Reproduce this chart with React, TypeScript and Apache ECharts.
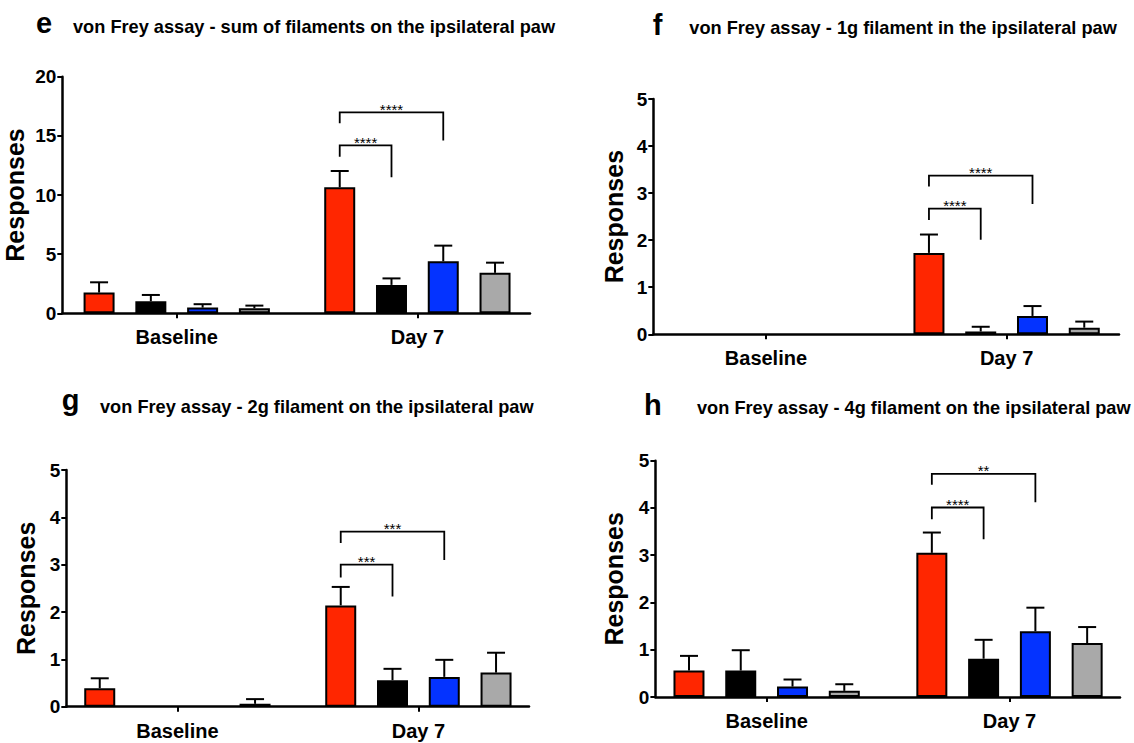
import React, { useEffect, useRef } from "react";
import * as echarts from "echarts";

// ---------- data ----------
const categories = ["Baseline", "Day 7"];
const groupNames = ["Group 1", "Group 2", "Group 3", "Group 4"];
const groupColors = ["#FF2600", "#000000", "#0433FF", "#A9A9A9"];
const panelLetters = ["e", "f", "g", "h"];
const panelTitles = [
  "von Frey assay - sum of filaments on the ipsilateral paw",
  "von Frey assay - 1g filament in the ipsilateral paw",
  "von Frey assay - 2g filament on the ipsilateral paw",
  "von Frey assay - 4g filament on the ipsilateral paw",
];
const yAxisName = "Responses";
const yMaxes = [20, 5, 5, 5];
const yIntervals = [5, 1, 1, 1];

// means per group: [Baseline, Day 7]
const eMeans = [[1.75, 10.65], [1.02, 2.4], [0.48, 4.4], [0.42, 3.42]];
const eErrTops = [[2.62, 12.03], [1.55, 2.95], [0.77, 5.72], [0.65, 4.28]];
const fMeans = [[0, 1.73], [0, 0.06], [0, 0.39], [0, 0.14]];
const fErrTops = [[null, 2.12], [null, 0.16], [null, 0.6], [null, 0.27]];
const gMeans = [[0.39, 2.14], [0, 0.56], [0, 0.63], [0.06, 0.72]];
const gErrTops = [[0.6, 2.53], [null, 0.8], [null, 0.99], [0.16, 1.14]];
const hMeans = [[0.56, 3.05], [0.56, 0.81], [0.22, 1.39], [0.13, 1.14]];
const hErrTops = [[0.87, 3.48], [0.99, 1.21], [0.37, 1.89], [0.27, 1.48]];

// brackets: [category, fromGroup, toGroup, leftBottom, top, rightBottom, label]
const eBrackets = [[1, 0, 1, 13.24, 14.2, 11.5, "****"], [1, 0, 2, 16.06, 16.99, 14.6, "****"]];
const fBrackets = [[1, 0, 1, 2.43, 2.67, 2.01, "****"], [1, 0, 2, 3.14, 3.37, 2.77, "****"]];
const gBrackets = [[1, 0, 1, 2.73, 3.0, 2.33, "***"], [1, 0, 2, 3.46, 3.7, 3.1, "***"]];
const hBrackets = [[1, 0, 1, 3.76, 4.01, 3.34, "****"], [1, 0, 2, 4.49, 4.72, 4.12, "**"]];

const allMeans = [eMeans, fMeans, gMeans, hMeans];
const allErrTops = [eErrTops, fErrTops, gErrTops, hErrTops];
const allBrackets = [eBrackets, fBrackets, gBrackets, hBrackets];

// ---------- layout ----------
const FONT = "'Liberation Sans', Arial, Helvetica, sans-serif";
const BAR_W = 31;
const BAR_GAP = 0.67;
const STEP = BAR_W * (1 + BAR_GAP);
const CAP = 18;

const layouts = [
  { left: 62.3, top: 76.7, width: 467.7, height: 236.6, xMin: -0.4755, xMax: 1.468, nameGap: 35, lx: 36, ly: 31.7, tx: 73, ty: 31.7 },
  { left: 653.3, top: 99, width: 465.7, height: 235.3, xMin: -0.468, xMax: 1.467, nameGap: 27, lx: 652.7, ly: 33.3, tx: 689.3, ty: 32.5 },
  { left: 66.3, top: 470, width: 462.7, height: 236.7, xMin: -0.461, xMax: 1.459, nameGap: 28, lx: 61.7, ly: 408.3, tx: 100, ty: 411.7 },
  { left: 655.4, top: 460.7, width: 464.6, height: 236.3, xMin: -0.458, xMax: 1.455, nameGap: 29, lx: 644, ly: 413.3, tx: 697, ty: 413 },
];

function buildOption() {
  const grid: any[] = [];
  const xAxis: any[] = [];
  const yAxis: any[] = [];
  const series: any[] = [];
  const graphic: any[] = [];

  layouts.forEach((L, p) => {
    grid.push({ left: L.left, top: L.top, width: L.width, height: L.height, containLabel: false, outerBoundsMode: "none" });
    xAxis.push({
      type: "value",
      gridIndex: p,
      min: L.xMin,
      max: L.xMax,
      splitLine: { show: false },
      axisLine: { show: true, onZero: false, lineStyle: { color: "#000", width: 2.5 } },
      axisTick: { show: true, customValues: [0, 1], length: 5, lineStyle: { color: "#000", width: 2 } },
      axisLabel: {
        show: true,
        customValues: [0, 1],
        formatter: (v: number) => categories[Math.round(v)] ?? "",
        color: "#000",
        fontFamily: FONT,
        fontWeight: "bold",
        fontSize: 20,
        margin: 14,
      },
    });
    yAxis.push({
      type: "value",
      gridIndex: p,
      min: 0,
      max: yMaxes[p],
      interval: yIntervals[p],
      name: yAxisName,
      nameLocation: "middle",
      nameGap: L.nameGap,
      nameTextStyle: { color: "#000", fontFamily: FONT, fontWeight: "bold", fontSize: 25 },
      splitLine: { show: false },
      axisLine: { show: true, onZero: false, lineStyle: { color: "#000", width: 2.5 } },
      axisTick: { show: true, length: 5, lineStyle: { color: "#000", width: 2 } },
      axisLabel: { color: "#000", fontFamily: FONT, fontWeight: "bold", fontSize: 19, margin: 6 },
    });

    const means = allMeans[p];
    const errs = allErrTops[p];
    means.forEach((vals, g) => {
      series.push({
        type: "bar",
        name: groupNames[g],
        xAxisIndex: p,
        yAxisIndex: p,
        barWidth: BAR_W,
        barGap: `${Math.round(BAR_GAP * 100)}%`,
        data: vals.map((v, c) => ({
          value: [c, v],
          itemStyle: v === 0 ? { borderWidth: 0 } : undefined,
        })),
        itemStyle: { color: groupColors[g], borderColor: "#000", borderWidth: 2 },
        z: 3,
      });
    });

    const errData: any[] = [];
    errs.forEach((vals, g) => {
      vals.forEach((t, c) => {
        if (t !== null) errData.push([c, g, means[g][c], t]);
      });
    });
    series.push({
      type: "custom",
      xAxisIndex: p,
      yAxisIndex: p,
      encode: { x: 0, y: 3 },
      z: 2,
      silent: true,
      data: errData,
      renderItem: (params: any, api: any) => {
        const c = api.value(0);
        const g = api.value(1);
        const v = api.value(2);
        const t = api.value(3);
        const b = api.coord([c, v]);
        const tp = api.coord([c, t]);
        const cx = b[0] + (g - 1.5) * STEP;
        return {
          type: "group",
          children: [
            { type: "line", shape: { x1: cx, y1: b[1], x2: cx, y2: tp[1] }, style: { stroke: "#000", lineWidth: 2 } },
            { type: "line", shape: { x1: cx - CAP / 2, y1: tp[1], x2: cx + CAP / 2, y2: tp[1] }, style: { stroke: "#000", lineWidth: 2 } },
          ],
        };
      },
    });

    const br = allBrackets[p];
    series.push({
      type: "custom",
      xAxisIndex: p,
      yAxisIndex: p,
      encode: { x: 0, y: 4 },
      z: 4,
      silent: true,
      data: br.map((b) => b.slice(0, 6)),
      renderItem: (params: any, api: any) => {
        const c = api.value(0);
        const from = api.value(1);
        const to = api.value(2);
        const pl = api.coord([c, api.value(3)]);
        const pt = api.coord([c, api.value(4)]);
        const pr = api.coord([c, api.value(5)]);
        const lx = pl[0] + (from - 1.5) * STEP;
        const rx = pl[0] + (to - 1.5) * STEP;
        const label = br[params.dataIndex][6] as string;
        return {
          type: "group",
          children: [
            {
              type: "polyline",
              shape: { points: [[lx, pl[1]], [lx, pt[1]], [rx, pt[1]], [rx, pr[1]]] },
              style: { stroke: "#000", lineWidth: 1.8, fill: null },
            },
            {
              type: "text",
              x: (lx + rx) / 2,
              y: pt[1] - 3,
              style: { text: label, fill: "#000", font: `15px ${FONT}`, align: "center", verticalAlign: "middle" },
            },
          ],
        };
      },
    });

    graphic.push({
      type: "text",
      x: L.lx,
      y: L.ly + 6,
      style: { text: panelLetters[p], fill: "#000", font: `bold 29px ${FONT}`, align: "left", verticalAlign: "bottom" },
    });
    graphic.push({
      type: "text",
      x: L.tx,
      y: L.ty + 4,
      style: { text: panelTitles[p], fill: "#000", font: `bold 18.2px ${FONT}`, align: "left", verticalAlign: "bottom" },
    });
  });

  return {
    animation: false,
    backgroundColor: "#fff",
    grid,
    xAxis,
    yAxis,
    series,
    graphic,
  };
}

export default function App() {
  const ref = useRef<HTMLDivElement>(null);
  useEffect(() => {
    if (!ref.current) return;
    const chart = echarts.init(ref.current, undefined, { renderer: "svg" });
    chart.setOption(buildOption() as any);
    return () => chart.dispose();
  }, []);
  return (
    <div
      ref={ref}
      style={{ position: "absolute", left: 0, top: 0, width: 1134, height: 743, background: "#fff" }}
    />
  );
}
